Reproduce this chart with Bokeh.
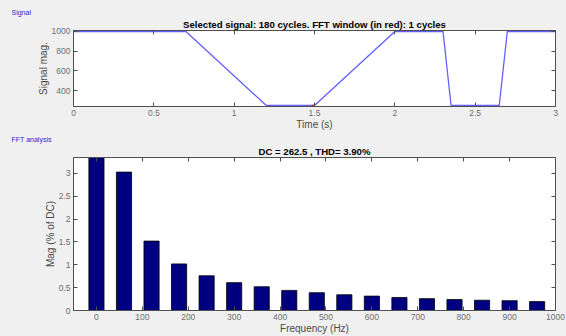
from bokeh.plotting import figure
from bokeh.layouts import column
from bokeh.models import LinearAxis, FixedTicker, Title, Range1d
from bokeh.embed import file_html
from bokeh.resources import INLINE

# ---- data ----
time_s = [0.0, 0.7, 1.2, 1.5, 2.0, 2.3, 2.35, 2.65, 2.7, 3.0]
signal_mag = [1000, 1000, 250, 250, 1000, 1000, 250, 250, 1000, 1000]
fft_window_t = [1.4833, 1.5]
fft_window_v = [250, 250]

time_ticks = [0, 0.5, 1, 1.5, 2, 2.5, 3]
time_tick_labels = ["0", "0.5", "1", "1.5", "2", "2.5", "3"]
sig_ticks = [400, 600, 800, 1000]
sig_tick_labels = ["400", "600", "800", "1000"]

freq_hz = [0, 60, 120, 180, 240, 300, 360, 420, 480, 540, 600, 660, 720, 780, 840, 900, 960]
mag_pct = [100, 3.03, 1.52, 1.02, 0.76, 0.61, 0.52, 0.44, 0.39, 0.345, 0.315, 0.285, 0.26, 0.24, 0.225, 0.215, 0.195]
freq_ticks = [0, 100, 200, 300, 400, 500, 600, 700, 800, 900, 1000]
freq_tick_labels = [str(v) for v in freq_ticks]
mag_ticks = [0, 0.5, 1, 1.5, 2, 2.5, 3]
mag_tick_labels = ["0", "0.5", "1", "1.5", "2", "2.5", "3"]

title_top = "Selected signal: 180 cycles. FFT window (in red): 1 cycles"
title_bot = "DC = 262.5 , THD= 3.90%"

BG = "#f0f0f0"
FONT = "Liberation Sans"
TICK_COLOR = "#6e6e6e"
LABEL_COLOR = "#4a4a4a"
AX_COLOR = "#505050"


def style_axes(p, xt, xl, yt, yl, xlabel, ylabel):
    p.xaxis.ticker = FixedTicker(ticks=xt)
    p.xaxis.major_label_overrides = dict(zip(xt, xl))
    p.yaxis.ticker = FixedTicker(ticks=yt)
    p.yaxis.major_label_overrides = dict(zip(yt, yl))
    p.xaxis.axis_label = xlabel
    p.yaxis.axis_label = ylabel
    for ax in (p.xaxis[0], p.yaxis[0]):
        ax.major_tick_in = 4
        ax.major_tick_out = 0
        ax.minor_tick_line_color = None
        ax.axis_line_color = AX_COLOR
        ax.major_tick_line_color = AX_COLOR
        ax.major_label_text_font = FONT
        ax.major_label_text_font_size = "8.5px"
        ax.major_label_text_color = TICK_COLOR
        ax.major_label_standoff = 3
        ax.axis_label_text_font = FONT
        ax.axis_label_text_font_size = "10px"
        ax.axis_label_text_font_style = "normal"
        ax.axis_label_text_color = LABEL_COLOR
        ax.axis_label_standoff = 0
    # box ticks on top and right (no labels drawn)
    for loc, ticks in (("above", xt), ("right", yt)):
        ax = LinearAxis(ticker=FixedTicker(ticks=ticks), major_label_text_font_size="1px",
                        major_label_text_color=None, major_tick_in=4, major_tick_out=0,
                        minor_tick_line_color=None, major_label_standoff=0,
                        axis_line_color=AX_COLOR, major_tick_line_color=AX_COLOR)
        p.add_layout(ax, loc)
    p.xgrid.visible = False
    p.ygrid.visible = False
    p.background_fill_color = "white"
    p.border_fill_color = BG
    p.outline_line_color = AX_COLOR


def add_titles(p, main, panel):
    # outermost: panel (group box) label in blue
    p.title.text = panel
    p.title.align = "left"
    p.title.offset = -62
    p.title.text_font = FONT
    p.title.text_font_size = "7px"
    p.title.text_font_style = "normal"
    p.title.text_color = "#1f1fd0"
    p.title.standoff = 1
    # inner: plot title
    p.add_layout(Title(text=main, align="center", text_font=FONT, text_font_size="9.6px",
                       text_font_style="bold", text_color="black", standoff=1), "above")


p1 = figure(width=566, height=133, output_backend="svg", toolbar_location=None,
            x_range=Range1d(0, 3), y_range=Range1d(240, 1010),
            min_border_left=72, min_border_right=10, min_border_top=30, min_border_bottom=27)
p1.line(time_s, signal_mag, line_color="#6060ff", line_width=1.3)
p1.line(fft_window_t, fft_window_v, line_color="red", line_width=1.5)
style_axes(p1, time_ticks, time_tick_labels, sig_ticks, sig_tick_labels, "Time (s)", "Signal mag.")
add_titles(p1, title_top, "Signal")

p2 = figure(width=566, height=203, output_backend="svg", toolbar_location=None,
            x_range=Range1d(-50, 1000), y_range=Range1d(0, 3.35),
            min_border_left=73, min_border_right=11, min_border_top=24, min_border_bottom=18)
p2.vbar(x=freq_hz, top=mag_pct, width=33, fill_color="#000080", line_color="black", line_width=0.8)
style_axes(p2, freq_ticks, freq_tick_labels, mag_ticks, mag_tick_labels, "Frequency (Hz)", "Mag (% of DC)")
bx = p2.xaxis[0]
bx.major_label_standoff = 2
bx.axis_label_standoff = 0
bx.major_label_text_line_height = 0.8
bx.axis_label_text_line_height = 0.8
bx.axis_label_text_font_size = "9.5px"
add_titles(p2, title_bot, "FFT analysis")

layout = column(p1, p2, spacing=0, styles={"background-color": BG})
open("out.html", "w").write(file_html(layout, INLINE))
